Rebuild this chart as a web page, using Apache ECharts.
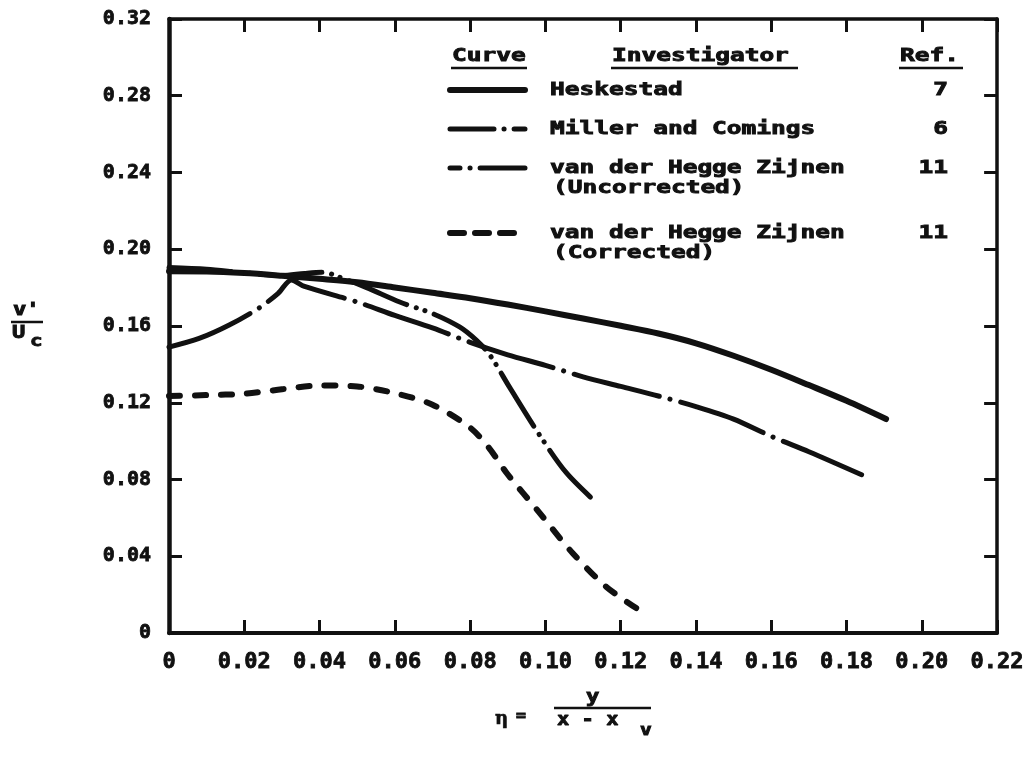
<!DOCTYPE html>
<html>
<head>
<meta charset="utf-8">
<title>v'/Uc versus eta</title>
<script src="https://cdn.jsdelivr.net/npm/echarts@6/dist/echarts.min.js"></script>
<style>
  html, body { margin: 0; padding: 0; background: #ffffff; }
  #chart { width: 1027px; height: 762px; }
</style>
</head>
<body>
<div id="chart"></div>
<script>
// Tick labels
const xTickLabels = ['0', '0.02', '0.04', '0.06', '0.08', '0.10', '0.12', '0.14', '0.16', '0.18', '0.20', '0.22'];
const yTickLabels = ['0', '0.04', '0.08', '0.12', '0.16', '0.20', '0.24', '0.28', '0.32'];

// Curves: [eta, v'/Uc]
const heskestad = [
  [0, 0.1885], [0.01, 0.1884], [0.02, 0.1876], [0.03, 0.1862], [0.04, 0.1846],
  [0.05, 0.1828], [0.06, 0.1801], [0.07, 0.1773], [0.08, 0.1745], [0.09, 0.1712],
  [0.10, 0.1676], [0.11, 0.1639], [0.12, 0.1601], [0.13, 0.1561], [0.14, 0.1510],
  [0.15, 0.1445], [0.16, 0.1372], [0.17, 0.1292], [0.18, 0.1210], [0.1905, 0.1115]
];
const millerComings = [
  [0, 0.149], [0.008, 0.1535], [0.016, 0.1605], [0.024, 0.1695], [0.029, 0.1770],
  [0.0325, 0.1840], [0.036, 0.1806], [0.05, 0.1725], [0.06, 0.1655], [0.07, 0.1590],
  [0.08, 0.1515], [0.09, 0.1450], [0.10, 0.1395], [0.11, 0.1335], [0.12, 0.1285],
  [0.13, 0.1235], [0.14, 0.1180], [0.15, 0.1115], [0.16, 0.1025], [0.17, 0.0945],
  [0.184, 0.0825]
];
const hzUncorrected = [
  [0, 0.1905], [0.01, 0.1896], [0.02, 0.1877], [0.03, 0.1863], [0.036, 0.1874],
  [0.041, 0.1880], [0.045, 0.1857], [0.0525, 0.1800], [0.0613, 0.1725], [0.070, 0.1665],
  [0.0772, 0.1595], [0.0817, 0.1525], [0.0852, 0.1450], [0.0905, 0.1280], [0.0985, 0.1030],
  [0.1056, 0.0834], [0.1136, 0.0678]
];
const hzCorrected = [
  [0, 0.1235], [0.01, 0.1240], [0.02, 0.1247], [0.03, 0.1270], [0.04, 0.1290],
  [0.05, 0.1285], [0.06, 0.1250], [0.07, 0.1190], [0.08, 0.1070], [0.085, 0.0965],
  [0.0897, 0.0834], [0.0985, 0.0625], [0.1072, 0.0417], [0.1162, 0.0240], [0.1245, 0.0125]
];

const seriesNames = ['Heskestad', 'Miller and Comings', 'van der Hegge Zijnen (Uncorrected)', 'van der Hegge Zijnen (Corrected)'];

const INK = '#111111';
const MONO = 'DejaVu Sans Mono';

// Stroke styles (round caps, so each tiny dash becomes a dot)
const curveStyles = [
  { width: 6, type: 'solid', sample: null },
  { width: 5, type: [88, 11, 0.1, 11], sample: [44, 10, 0.1, 10, 60] },
  { width: 5, type: [62, 10, 0.1, 9, 0.1, 10], sample: [10, 10, 0.1, 10, 80] },
  { width: 6, type: [11, 15], sample: [14, 11] }
];
const curveData = [heskestad, millerComings, hzUncorrected, hzCorrected];

const chart = echarts.init(document.getElementById('chart'), null, { renderer: 'canvas' });

const frameAxis = (extra) => Object.assign({
  type: 'value',
  axisLine: { show: true, onZero: false, lineStyle: { color: INK, width: 3.5 } },
  axisTick: { show: true, inside: true, length: 13, lineStyle: { color: INK, width: 3 } },
  splitLine: { show: false }
}, extra);

// Text in a wide, heavy typewriter-like face
function txt(x, y, s, opts) {
  opts = opts || {};
  return {
    type: 'text', x: x, y: y, scaleX: opts.sx || 1.36, scaleY: 1,
    style: {
      text: s, fill: INK, stroke: INK, lineWidth: opts.lw != null ? opts.lw : 0.9,
      font: 'bold ' + (opts.size || 18) + 'px "' + MONO + '"',
      align: opts.align || 'left', verticalAlign: 'middle'
    },
    silent: true
  };
}
function rule(x1, y1, x2, y2, w) {
  return { type: 'line', shape: { x1: x1, y1: y1, x2: x2, y2: y2 },
    style: { stroke: INK, lineWidth: w || 2.5 }, silent: true };
}

const legendRows = [
  { y: 90, lines: ['Heskestad'], ref: '7' },
  { y: 129, lines: ['Miller and Comings'], ref: '6' },
  { y: 168, lines: ['van der Hegge Zijnen', '(Uncorrected)'], ref: '11' },
  { y: 233, lines: ['van der Hegge Zijnen', '(Corrected)'], ref: '11' }
];

const graphics = [];
// table headers
graphics.push(txt(452, 56, 'Curve'));
graphics.push(rule(451, 68, 527, 68));
graphics.push(txt(612, 56, 'Investigator'));
graphics.push(rule(611, 68, 798, 68));
graphics.push(txt(900, 56, 'Ref.'));
graphics.push(rule(899, 68, 963, 68));
legendRows.forEach((row, i) => {
  const st = curveStyles[i];
  graphics.push({
    type: 'line', shape: { x1: 450, y1: row.y, x2: 525, y2: row.y },
    style: { stroke: INK, lineWidth: st.width, lineDash: st.sample, lineCap: 'round' },
    silent: true
  });
  row.lines.forEach((s, k) => {
    graphics.push(txt(k === 0 ? 550 : 553, row.y + k * 20, s));
  });
  graphics.push(txt(948, row.y, row.ref, { align: 'right' }));
});

// y-axis title: v' / U_c
graphics.push(txt(13, 311, "v'", { size: 17, sx: 1.3 }));
graphics.push(rule(11, 322, 43, 322, 2.5));
graphics.push(txt(12, 334, 'U', { size: 17, sx: 1.3 }));
graphics.push(txt(30, 342, 'c', { size: 16, sx: 1.3 }));

// x-axis title: eta = y / (x - x_v)
graphics.push({
  type: 'text', x: 495, y: 719,
  style: { text: 'η', fill: INK, stroke: INK, lineWidth: 0.6, font: 'bold 18px "DejaVu Serif"', align: 'left', verticalAlign: 'middle' },
  silent: true
});
graphics.push(txt(516, 716, '=', { size: 15, sx: 1.1 }));
graphics.push(txt(586, 698, 'y', { size: 17, sx: 1.3 }));
graphics.push(rule(554, 708, 651, 708, 2.5));
graphics.push(txt(557, 721, 'x - x', { size: 17, sx: 1.2 }));
graphics.push(txt(640, 731, 'v', { size: 15, sx: 1.3 }));

const option = {
  backgroundColor: '#ffffff',
  animation: false,
  grid: { left: 169, right: 29, top: 19, bottom: 129, containLabel: false },
  xAxis: [
    frameAxis({
      position: 'bottom', min: 0, max: 0.22, interval: 0.02,
      axisLine: { show: true, onZero: false, lineStyle: { color: INK, width: 4 } },
      axisLabel: {
        show: true, margin: 18, color: INK,
        fontFamily: MONO, fontWeight: 'bold', fontSize: 22,
        textBorderColor: INK, textBorderWidth: 0.8,
        formatter: (v) => xTickLabels[Math.round(v / 0.02)]
      }
    }),
    frameAxis({
      position: 'top', min: 0, max: 0.22, interval: 0.02,
      axisLabel: { show: false }
    })
  ],
  yAxis: [
    frameAxis({
      position: 'left', min: 0, max: 0.32, interval: 0.04,
      axisLine: { show: true, onZero: false, lineStyle: { color: INK, width: 4.5 } },
      axisLabel: {
        show: true, margin: 18, color: INK,
        fontFamily: MONO, fontWeight: 'bold', fontSize: 20,
        textBorderColor: INK, textBorderWidth: 0.8,
        formatter: (v) => yTickLabels[Math.round(v / 0.04)]
      }
    }),
    frameAxis({
      position: 'right', min: 0, max: 0.32, interval: 0.04,
      axisLabel: { show: false }
    })
  ],
  series: curveData.map((d, i) => ({
    name: seriesNames[i],
    type: 'line',
    xAxisIndex: 0,
    yAxisIndex: 0,
    data: d,
    smooth: 0.3,
    symbol: 'none',
    showSymbol: false,
    lineStyle: { color: INK, width: curveStyles[i].width, type: curveStyles[i].type, cap: 'round', join: 'round' },
    z: 3
  })),
  graphic: graphics
};

chart.setOption(option);
</script>
</body>
</html>
